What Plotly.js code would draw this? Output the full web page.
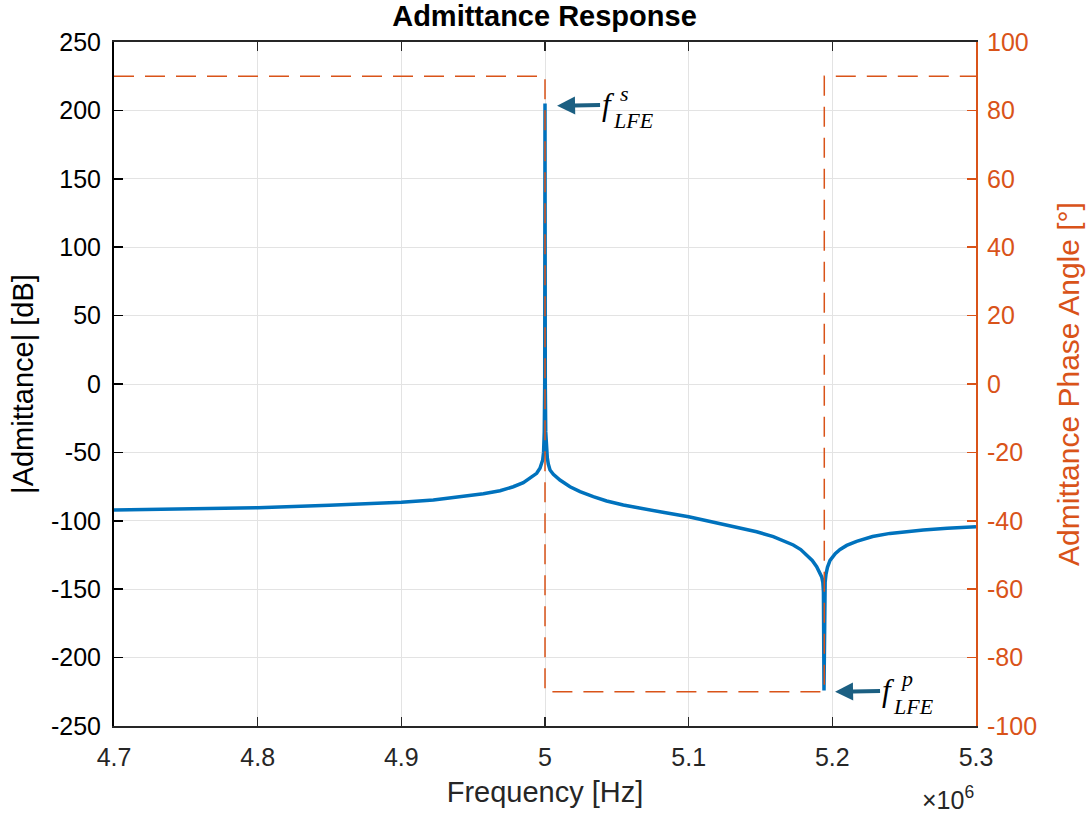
<!DOCTYPE html>
<html>
<head>
<meta charset="utf-8">
<script src="https://cdn.plot.ly/plotly-3.0.1.min.js"></script>
<style>html,body{margin:0;padding:0;background:#fff;}#chart{width:1089px;height:814px;}</style>
</head>
<body>
<div id="chart"></div>
<script>
// Frequency [Hz] of points read for the magnitude curve
const freqMag = [
  4.700e6, 4.750e6, 4.800e6, 4.850e6, 4.900e6, 4.9223e6, 4.9455e6, 4.9571e6, 4.9687e6,
  4.9779e6, 4.9849e6, 4.9896e6, 4.9942e6, 4.9965e6, 4.9977e6, 4.9984e6, 4.9990e6,
  4.9995e6, 4.9998e6, 5.0000e6, 5.0002e6, 5.0005e6, 5.0010e6, 5.0016e6, 5.0023e6,
  5.0035e6, 5.0058e6, 5.0104e6, 5.0174e6, 5.0244e6, 5.0336e6, 5.0429e6, 5.0545e6,
  5.0661e6, 5.0830e6, 5.1000e6, 5.1180e6, 5.1357e6, 5.1473e6, 5.1589e6, 5.1660e6,
  5.1728e6, 5.1780e6, 5.1821e6, 5.1860e6, 5.1891e6, 5.1912e6, 5.1926e6, 5.1934e6,
  5.1938e6, 5.1942e6, 5.1946e6, 5.1950e6, 5.1956e6, 5.1966e6, 5.1984e6, 5.2020e6,
  5.2054e6, 5.2100e6, 5.2169e6, 5.2280e6, 5.2401e6, 5.2520e6, 5.2633e6, 5.2800e6,
  5.3000e6
];
// |Admittance| [dB]
const magDB = [
  -92.1, -91.2, -90.4, -88.7, -86.5, -84.8, -81.9, -80.2, -78.0,
  -75.1, -72.1, -68.9, -65.3, -61.6, -58.0, -55.5, -50.0,
  -35.0, 0.0, 205.0, 0.0, -35.0, -48.0, -54.0, -58.5,
  -62.9, -66.0, -70.2, -75.1, -78.7, -82.4, -85.5, -88.5,
  -90.9, -94.0, -97.0, -101.0, -104.8, -108.0, -111.6, -114.5,
  -117.7, -121.0, -125.0, -129.0, -133.5, -137.5, -141.0, -145.0,
  -152.0, -224.0, -152.0, -145.0, -139.0, -134.0, -129.0, -124.0,
  -121.0, -118.0, -115.0, -111.5, -109.2, -107.8, -106.7, -105.5,
  -104.3
];
// Phase angle [deg]
const freqPhase = [4.700e6, 5.000e6, 5.000e6, 5.1944e6, 5.1944e6, 5.300e6];
const phaseDeg  = [90, 90, -90, -90, 90, 90];

// Axis ticks and their labels
const xTickVals = [4.7e6, 4.8e6, 4.9e6, 5.0e6, 5.1e6, 5.2e6, 5.3e6];
const xTickText = ['4.7', '4.8', '4.9', '5', '5.1', '5.2', '5.3'];
const yLeftTicks = [-250, -200, -150, -100, -50, 0, 50, 100, 150, 200, 250];
const yLeftText  = ['-250', '-200', '-150', '-100', '-50', '0', '50', '100', '150', '200', '250'];
const yRightTicks = [-100, -80, -60, -40, -20, 0, 20, 40, 60, 80, 100];
const yRightText  = ['-100', '-80', '-60', '-40', '-20', '0', '20', '40', '60', '80', '100'];

// Marker arrow tips (series / parallel resonance)
const fsPoint = {f: 5.0084e6, y: 203.4};
const fpPoint = {f: 5.2019e6, y: -225};

const ORANGE = '#D95319';
const BLUE = '#0072BD';
const AX = '#262626';
const ARROW = '#1B5F82';
const FONT = '"Liberation Sans", Arial, Helvetica, sans-serif';
const SERIF = '"Liberation Serif", "DejaVu Serif", serif';

const traces = [
  {x: freqMag, y: magDB, type: 'scatter', mode: 'lines', yaxis: 'y',
   line: {color: BLUE, width: 3.5}, hoverinfo: 'skip', showlegend: false},
  {x: freqPhase, y: phaseDeg, type: 'scatter', mode: 'lines', yaxis: 'y2',
   line: {color: ORANGE, width: 1.5, dash: '20px,11px'}, hoverinfo: 'skip', showlegend: false}
];

const annotations = [
  // arrows carrying the italic "f"
  {x: fsPoint.f, y: fsPoint.y, xref: 'x', yref: 'y', ax: 51, ay: -1,
   text: '<i>f</i>', font: {family: SERIF, size: 31, color: '#000'},
   showarrow: true, arrowhead: 2, arrowsize: 0.9, arrowwidth: 4, arrowcolor: ARROW, standoff: 0, startstandoff: 0},
  {x: fpPoint.f, y: fpPoint.y, xref: 'x', yref: 'y', ax: 53, ay: -1,
   text: '<i>f</i>', font: {family: SERIF, size: 31, color: '#000'},
   showarrow: true, arrowhead: 2, arrowsize: 0.9, arrowwidth: 4, arrowcolor: ARROW, standoff: 0, startstandoff: 0},
  // scripts of f_LFE^s
  {x: 5.0509e6, y: 212, xref: 'x', yref: 'y', xanchor: 'left', yanchor: 'middle', showarrow: false,
   text: '<i>s</i>', font: {family: SERIF, size: 22, color: '#000'}},
  {x: 5.0460e6, y: 192.5, xref: 'x', yref: 'y', xanchor: 'left', yanchor: 'middle', showarrow: false,
   text: '<i>LFE</i>', font: {family: SERIF, size: 22, color: '#000'}},
  // scripts of f_LFE^p
  {x: 5.2456e6, y: -215.5, xref: 'x', yref: 'y', xanchor: 'left', yanchor: 'middle', showarrow: false,
   text: '<i>p</i>', font: {family: SERIF, size: 22, color: '#000'}},
  {x: 5.2407e6, y: -236, xref: 'x', yref: 'y', xanchor: 'left', yanchor: 'middle', showarrow: false,
   text: '<i>LFE</i>', font: {family: SERIF, size: 22, color: '#000'}},
  // exponent label
  {x: 1.0, y: -0.079, xref: 'paper', yref: 'paper', xanchor: 'right', yanchor: 'top', showarrow: false,
   text: '×10<sup>6</sup>', font: {family: FONT, size: 25, color: AX}}
];

const layout = {
  width: 1089, height: 814,
  margin: {l: 114, r: 113, t: 42, b: 88, pad: 0},
  paper_bgcolor: '#fff', plot_bgcolor: '#fff',
  font: {family: FONT, size: 25, color: AX},
  showlegend: false,
  title: {text: '<b>Admittance Response</b>', x: 0.5, xanchor: 'center',
          y: 0.9925, yanchor: 'top', yref: 'container',
          font: {family: FONT, size: 29, color: '#000'}},
  xaxis: {
    range: [4.7e6, 5.3e6], tickvals: xTickVals, ticktext: xTickText,
    ticks: 'inside', ticklen: 9, tickwidth: 1.5, tickcolor: AX,
    showline: true, linecolor: AX, linewidth: 2, mirror: 'ticks',
    showgrid: true, gridcolor: '#E3E3E3', gridwidth: 1, zeroline: false,
    ticklabelstandoff: 8,
    tickfont: {family: FONT, size: 25, color: AX},
    title: {text: 'Frequency [Hz]', standoff: 12, font: {family: FONT, size: 29, color: AX}}
  },
  yaxis: {
    range: [-250, 250], tickvals: yLeftTicks, ticktext: yLeftText,
    ticks: 'inside', ticklen: 9, tickwidth: 1.5, tickcolor: '#000',
    showline: true, linecolor: '#000', linewidth: 2, mirror: false,
    showgrid: true, gridcolor: '#E3E3E3', gridwidth: 1, zeroline: false,
    ticklabelstandoff: 6,
    tickfont: {family: FONT, size: 25, color: '#000'},
    title: {text: '|Admittance| [dB]', standoff: 9, font: {family: FONT, size: 29, color: '#000'}}
  },
  yaxis2: {
    range: [-100, 100], tickvals: yRightTicks, ticktext: yRightText, overlaying: 'y', side: 'right',
    ticks: 'inside', ticklen: 9, tickwidth: 1.5, tickcolor: ORANGE,
    showline: true, linecolor: ORANGE, linewidth: 2,
    showgrid: false, zeroline: false,
    ticklabelstandoff: 4,
    tickfont: {family: FONT, size: 25, color: ORANGE},
    title: {text: 'Admittance Phase Angle [°]', standoff: 22, font: {family: FONT, size: 30, color: ORANGE}}
  },
  annotations: annotations
};

Plotly.newPlot('chart', traces, layout, {staticPlot: true, displayModeBar: false});
</script>
</body>
</html>
